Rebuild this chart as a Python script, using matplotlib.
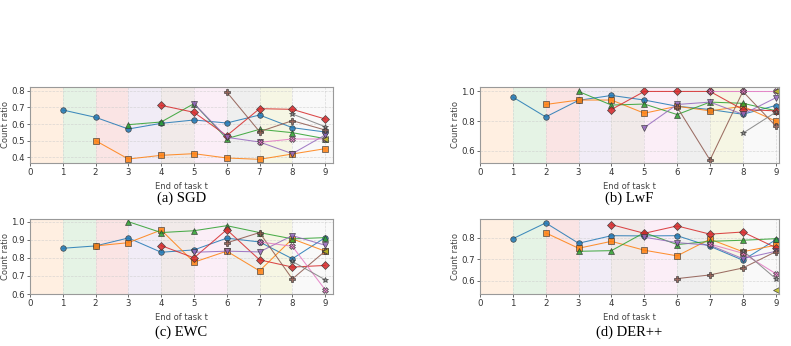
import numpy as np
import matplotlib
matplotlib.use('Agg')
import matplotlib.pyplot as plt

# x positions: series k starts at end of task k+1
tasks = [1, 2, 3, 4, 5, 6, 7, 8, 9]

sgd = [
    [0.684, 0.640, 0.570, 0.604, 0.624, 0.606, 0.654, 0.578, 0.552],
    [0.500, 0.390, 0.412, 0.422, 0.396, 0.388, 0.420, 0.452],
    [0.596, 0.612, 0.722, 0.512, 0.568, 0.548, 0.512],
    [0.712, 0.670, 0.530, 0.692, 0.688, 0.630],
    [0.722, 0.520, 0.492, 0.422, 0.534],
    [0.792, 0.554, 0.620, 0.564],
    [0.490, 0.510, 0.510],
    [0.660, 0.584],
    [0.510],
]
lwf = [
    [0.962, 0.828, 0.940, 0.973, 0.942, 0.900, 0.878, 0.846, 0.905],
    [0.912, 0.942, 0.942, 0.853, 0.900, 0.869, 0.900, 0.800],
    [1.000, 0.908, 0.915, 0.844, 0.928, 0.920, 0.870],
    [0.878, 1.000, 1.000, 1.000, 0.878, 0.869],
    [0.756, 0.912, 0.928, 0.846, 0.957],
    [0.894, 0.537, 1.000, 0.767],
    [1.000, 1.000, 1.000],
    [0.718, 0.860],
    [1.000],
]
ewc = [
    [0.853, 0.866, 0.910, 0.831, 0.844, 0.909, 0.888, 0.795, 0.912],
    [0.866, 0.884, 0.954, 0.776, 0.837, 0.728, 0.905, 0.837],
    [1.000, 0.940, 0.950, 0.978, 0.940, 0.905, 0.912],
    [0.868, 0.800, 0.956, 0.789, 0.749, 0.758],
    [0.831, 0.837, 0.833, 0.923, 0.870],
    [0.883, 0.940, 0.683, 0.837],
    [0.888, 0.864, 0.624],
    [0.780, 0.679],
    [0.840],
]
derpp = [
    [0.795, 0.868, 0.774, 0.809, 0.808, 0.809, 0.760, 0.696, 0.790],
    [0.822, 0.751, 0.783, 0.742, 0.716, 0.793, 0.735, 0.765],
    [0.737, 0.740, 0.823, 0.768, 0.783, 0.788, 0.795],
    [0.860, 0.820, 0.854, 0.816, 0.826, 0.754],
    [0.802, 0.777, 0.765, 0.703, 0.737],
    [0.611, 0.628, 0.660, 0.735],
    [0.770, 0.728, 0.634],
    [0.740, 0.611],
    [0.557],
]

panels = [sgd, lwf, ewc, derpp]
captions = ['(a) SGD', '(b) LwF', '(c) EWC', '(d) DER++']
ylims = [(0.366, 0.822), (0.517, 1.03), (0.6, 1.015), (0.54, 0.886)]
yticks = [[0.4, 0.5, 0.6, 0.7, 0.8], [0.6, 0.8, 1.0], [0.6, 0.7, 0.8, 0.9, 1.0], [0.6, 0.7, 0.8]]
xmax = [9.24, 9.1, 9.24, 9.1]

colors = plt.cm.tab10.colors
markers = ['o', 's', '^', 'D', 'v', 'P', 'X', '*', '<']
span_colors = list(colors[1:9]) + ['#d0d0d0']

fig = plt.figure(figsize=(7.91, 3.46), dpi=100)
rects = [
    [30 / 791, 1 - 163 / 346, 303 / 791, 76 / 346],
    [480 / 791, 1 - 163 / 346, 299 / 791, 76 / 346],
    [30 / 791, 1 - 294 / 346, 303 / 791, 75 / 346],
    [480 / 791, 1 - 294 / 346, 299 / 791, 75 / 346],
]

for i, data in enumerate(panels):
    ax = fig.add_axes(rects[i])
    for k in range(9):
        ax.axvspan(k, k + 1 if k < 8 else 10, color=span_colors[k], alpha=0.12, lw=0)
    for k, vals in enumerate(data):
        ax.plot(tasks[k:], vals, color=colors[k], marker=markers[k], markersize=4,
                markeredgecolor='#333333', markeredgewidth=0.5, lw=0.75, alpha=0.85)
    ax.set_xlim(0, xmax[i])
    ax.set_ylim(*ylims[i])
    ax.set_xticks(range(10))
    ax.set_yticks(yticks[i])
    ax.set_yticklabels([f'{v:.1f}' for v in yticks[i]])
    ax.grid(True, ls='--', lw=0.5, color='#cccccc', alpha=0.7)
    ax.tick_params(labelsize=6.2, length=2, width=0.5, pad=1.5, colors='#333333')
    for s in ax.spines.values():
        s.set_color('#999999')
        s.set_linewidth(0.8)
    ax.set_xlabel('End of task t', fontsize=6, color='#444444')
    ax.set_ylabel('Count ratio', fontsize=6, color='#444444')
    h = rects[i][3] * 346
    w = rects[i][2] * 791
    ax.xaxis.set_label_coords(0.5, -19 / h)
    ax.yaxis.set_label_coords(-20 / w, 0.5)
    cx = rects[i][0] + rects[i][2] / 2
    cy = (1 - 198 / 346) if i < 2 else (1 - 332 / 346)
    fig.text(cx, cy, captions[i], ha='center', va='center', fontsize=10.5,
             family='Liberation Serif')

fig.savefig('out.png', dpi=100)
